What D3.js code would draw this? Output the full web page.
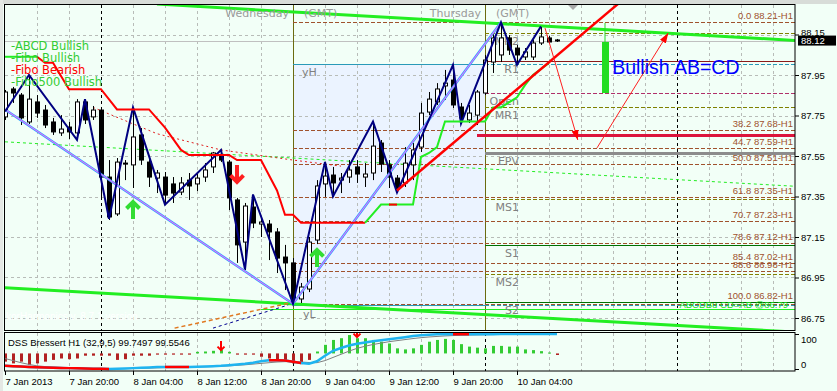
<!DOCTYPE html>
<html>
<head>
<meta charset="utf-8">
<title>USDJPY H1 - Bullish AB=CD</title>
<script src="https://cdn.jsdelivr.net/npm/d3@7"></script>
<style>
  body { margin: 0; background: #f2fff7; }
  svg { display: block; }
  text { font-family: "Liberation Sans", Arial, sans-serif; }
  .mt { font-family: "DejaVu Sans", sans-serif; }
</style>
</head>
<body>
<svg id="chart" width="837" height="391"></svg>
<script>
// ---- data (bar index = hours since 7 Jan 12:00) ----
const startTime = Date.UTC(2013, 0, 7, 12);

const opens = [87.743,87.881,87.851,87.718,87.817,87.777,87.718,87.664,87.693,87.664,
  87.817,87.743,87.777,87.446,87.264,87.515,87.506,87.654,87.520,87.441,
  87.446,87.412,87.372,87.431,87.412,87.446,87.496,87.555,87.520,87.333,
  87.125,87.298,87.214,87.214,87.175,87.051,87.022,86.844,86.893,87.135,
  87.412,87.456,87.431,87.446,87.496,87.446,87.466,87.614,87.506,87.441,
  87.417,87.506,87.594,87.767,87.817,87.896,87.925,87.792,87.728,87.752,
  87.861,88.014,88.049,88.133,88.083,88.039,88.039,88.108,88.133,88.123];
const highs = [87.876,87.891,87.861,87.950,87.851,87.802,87.738,87.752,87.718,87.831,
  87.827,87.797,87.792,87.530,87.540,87.530,87.792,87.688,87.545,87.481,
  87.471,87.446,87.446,87.466,87.466,87.515,87.570,87.580,87.530,87.343,
  87.318,87.357,87.249,87.234,87.194,87.111,87.046,86.923,87.150,87.431,
  87.515,87.496,87.466,87.530,87.530,87.515,87.718,87.629,87.530,87.456,
  87.594,87.614,87.812,87.866,87.910,87.975,88.000,87.812,87.802,87.876,
  88.049,88.157,88.207,88.147,88.098,88.083,88.123,88.187,88.143,88.128];
const lows = [87.728,87.812,87.703,87.708,87.738,87.688,87.654,87.649,87.634,87.629,
  87.708,87.728,87.333,87.234,87.254,87.431,87.392,87.506,87.397,87.367,
  87.313,87.318,87.357,87.333,87.377,87.422,87.466,87.520,87.283,87.022,
  86.987,87.194,87.150,87.036,86.972,86.888,86.824,86.824,86.878,87.115,
  87.348,87.348,87.367,87.417,87.417,87.397,87.431,87.471,87.392,87.372,
  87.397,87.431,87.570,87.752,87.802,87.827,87.787,87.713,87.713,87.703,
  87.851,87.960,88.014,88.049,88.000,88.024,88.024,88.098,88.103,88.113];
const closes = [87.866,87.861,87.738,87.831,87.762,87.703,87.669,87.683,87.669,87.817,
  87.728,87.777,87.446,87.249,87.520,87.510,87.644,87.530,87.446,87.466,
  87.357,87.367,87.417,87.402,87.441,87.481,87.565,87.530,87.343,87.111,
  87.303,87.219,87.224,87.175,87.046,87.022,86.839,86.903,87.125,87.402,
  87.451,87.417,87.441,87.481,87.461,87.461,87.599,87.510,87.446,87.387,
  87.515,87.580,87.762,87.831,87.881,87.910,87.802,87.738,87.762,87.866,
  88.024,88.133,88.133,88.073,88.049,88.064,88.108,88.138,88.113,88.118];

const bidPrice = 88.12;
const priceTicks = [88.15, 87.95, 87.75, 87.55, 87.35, 87.15, 86.95, 86.75];
const timeTickBars = [0, 8, 16, 24, 32, 40, 48, 56, 64];
const timeLabels = ["7 Jan 2013", "7 Jan 20:00", "8 Jan 04:00", "8 Jan 12:00", "8 Jan 20:00",
  "9 Jan 04:00", "9 Jan 12:00", "9 Jan 20:00", "10 Jan 04:00"];

// zigzag and pattern legs: [bar, price]
const zigzag = [[0,87.77],[3,87.95],[9,87.63],[10,87.83],[13,87.24],[16,87.79],[20,87.31],
  [27,87.58],[30,86.99],[31,87.36],[36,86.82],[40,87.52],[41,87.35],[46,87.72],[49,87.37],
  [56,88.00],[57,87.71],[62,88.21],[64,88.00],[67,88.19]];
const abcdLegs = [[0,87.78],[36,86.82],[62,88.21]];

// trailing stop steps
const stopBear = [[4,88.04],[5,88.01],[6,88.01],[8,87.88],[12,87.88],[14,87.78],[18,87.78],
  [20,87.69],[22,87.58],[23,87.555],[28,87.555],[29,87.53],[32,87.53],[34,87.38],[35,87.26],
  [36,87.26],[37,87.22],[45,87.22]];
const stopBullEarly = [[0,88.04],[4,88.04]];
const stopBull = [[45,87.22],[47,87.31],[51,87.31],[52,87.545],[53,87.565],[54,87.594],
  [55,87.72],[60,87.72],[61,87.79],[62,87.79],[64,87.84],[65,87.90],[66,87.95],[67,87.98],[68,88.01]];
const stopBullRedBit = [[48,87.31],[49,87.31]];

const channelTop = [[19,88.30],[99,88.12]];
const channelBottom = [[0,86.90],[99,86.68]];
const channelMid = [[0,87.62],[99,87.40]];
const redDotted = [[11,87.79],[19,87.66],[27,87.58],[36,87.53],[42,87.50]];
const orangeDashed = [[21.2,86.70],[35.6,86.824]];
const navyDashed = [[26,86.70],[35.4,86.814]];
const redTrend = [[49,87.38],[76.6,88.30]];
const projArrowDown = [[67.5,88.182],[71.6,87.629]];
const projArrowUp = [[74,87.59],[82.9,88.157]];

// fibonacci retracement
const fibLevels = [0.0, 38.2, 44.7, 50.0, 61.8, 70.7, 78.6, 85.4, 88.6, 100.0];
const fibPrices = [88.21, 87.68, 87.59, 87.51, 87.35, 87.23, 87.12, 87.02, 86.98, 86.82];

// pivots for Thursday
const pivotNames = ["MR2", "R1", "Open", "MR1", "EPV", "MS1", "S1", "MS2", "S2"];
const pivotPrices = [88.157, 88.019, 87.861, 87.792, 87.565, 87.338, 87.110, 86.967, 86.829];
const yHigh = 88.004, yLow = 86.814;
const targetZone = 87.656;
const cdLine = 86.794;

const greenArrows = [[16,87.323],[39,87.086]];
const redArrows = [[29,87.422]];
const signalBar = [75, 88.207, 88.113, 87.861];

// DSS Bressert sub window
const dss = [9,8,7,6,5,4,3.5,3,2.5,2,1.5,1,0.5,0,0.5,1.5,2.5,3.5,4.5,5.5,
  6,6,5.8,5.6,6.5,7,8,9,11,13,15,18,22,25,25,24,21,17,15,22,
  38,52,60,67,72,76,79,82,85,88,91,94,96.5,98,99,99.5,99.6,99.5,99.4,99.5,
  99.6,99.6,99.65,99.7,99.7,99.72,99.73,99.74,99.745,99.7497];
const dssSignal = [30,24,18,13,9,7,5.5,4.5,3.5,2.5,1.8,1.2,0.8,0.5,0.5,0.8,1.2,1.8,2.5,3.2,
  4,4.6,5,5.2,5.6,6.2,7,8,9,10.5,12,14,16,18,20,21,21,20,18.5,18,
  24,33,42,51,59,65,70,74,78,81,84,87,89.5,91.5,93,94.5,95.5,96.5,97,97.5,
  98,98.4,98.7,99,99.2,99.3,99.4,99.45,99.5,99.5546];
const dssHist = [21,16,21,11,16,21,26,30,28,30,38,38,38,38,26,28,38,38,38,41,
  41,41,41,41,49,50,52,54,49,41,41,41,35,30,28,21,16,14,26,50,
  69,83,88,97,88,88,83,78,73,59,56,59,69,78,83,86,83,71,64,61,
  59,66,66,64,64,56,54,51,47,40];
const histBase = 44.5;
const dssRedRanges = [[0,13],[20,23],[33,37],[56,58]];
const dssArrows = [[27,54],[44,91]];
const indTicks = [100, 0];

const legendNames = ["-ABCD Bullish", "-Fibo Bullish", "-Fibo Bearish", "-Fibo500 Bullish"];
const legendColors = ["#33cc33", "#33cc33", "#ff0000", "#33cc33"];

// ---- scales ----
const hour = 3600 * 1000;
const barTime = i => new Date(startTime + i * hour);
const x = d3.scaleUtc().domain([barTime(0), barTime(99)]).range([5, 797]);
const xb = i => x(barTime(i));
const y = d3.scaleLinear().domain([86.75, 88.15]).range([318, 34.5]);
const yi = d3.scaleLinear().domain([0, 100]).range([369, 334]);

const svg = d3.select("#chart");
svg.append("rect").attr("width", 837).attr("height", 391).attr("fill", "#f2fff7");
svg.append("rect").attr("width", 837).attr("height", 4).attr("fill", "#d8dcd8");
svg.append("rect").attr("width", 3).attr("height", 391).attr("fill", "#e4e8e4");

const defs = svg.append("defs");
defs.append("clipPath").attr("id", "clipMain").append("rect")
  .attr("x", 5).attr("y", 5).attr("width", 790).attr("height", 325);
defs.append("clipPath").attr("id", "clipInd").append("rect")
  .attr("x", 5).attr("y", 333).attr("width", 790).attr("height", 38);
defs.append("marker").attr("id", "redHead").attr("viewBox", "0 0 10 7")
  .attr("refX", 10).attr("refY", 3.5).attr("markerWidth", 10).attr("markerHeight", 7)
  .attr("markerUnits", "userSpaceOnUse").attr("orient", "auto")
  .append("path").attr("d", "M0,0L10,3.5L0,7z").attr("fill", "#ff0000");

const main = svg.append("g").attr("clip-path", "url(#clipMain)");
const ind = svg.append("g").attr("clip-path", "url(#clipInd)");
const line = d3.line().x(d => xb(d[0])).y(d => y(d[1]));

function hline(g, b0, b1, price, color, width, dash) {
  g.append("line")
    .attr("x1", xb(b0)).attr("x2", xb(b1))
    .attr("y1", Math.round(y(price)) + 0.5).attr("y2", Math.round(y(price)) + 0.5)
    .attr("stroke", color).attr("stroke-width", width)
    .attr("stroke-dasharray", dash);
}

// Wednesday range box
main.append("rect")
  .attr("x", xb(36)).attr("y", y(yHigh))
  .attr("width", xb(60) - xb(36)).attr("height", y(yLow) - y(yHigh))
  .attr("fill", "#ebf3ff");

// grid
const gridTimes = x.ticks(d3.utcHour.every(4)).filter(d => d.getUTCHours() !== 0 && +d !== startTime);
[main, ind].forEach((g, k) => {
  g.selectAll(null).data(gridTimes).join("line")
    .attr("x1", d => Math.round(x(d)) + 0.5).attr("x2", d => Math.round(x(d)) + 0.5)
    .attr("y1", k ? 333 : 5).attr("y2", k ? 371 : 330)
    .attr("stroke", "#b8bcb8").attr("stroke-dasharray", "3,3");
});
main.selectAll(null).data(priceTicks).join("line")
  .attr("x1", 5).attr("x2", 795)
  .attr("y1", d => Math.round(y(d)) + 0.5).attr("y2", d => Math.round(y(d)) + 0.5)
  .attr("stroke", "#b8bcb8").attr("stroke-dasharray", "3,3");

// bid line
hline(main, 0, 99, bidPrice, "#c0c0c0", 1, null);

// day separators
const dayBars = [12, 36, 60, 84];
dayBars.forEach(b => {
  const xx = Math.round(xb(b)) + 0.5;
  ind.append("line").attr("x1", xx).attr("x2", xx).attr("y1", 333).attr("y2", 371)
    .attr("stroke", "#000").attr("stroke-dasharray", "3,3");
  if (b === 36 || b === 60) {
    main.append("line").attr("x1", xx).attr("x2", xx).attr("y1", 5).attr("y2", 330)
      .attr("stroke", "#6b6b10");
  } else {
    main.append("line").attr("x1", xx).attr("x2", xx).attr("y1", 5).attr("y2", 330)
      .attr("stroke", "#000").attr("stroke-dasharray", "3,3");
  }
});

// fibonacci lines
fibPrices.forEach(p => hline(main, 36, 99, p, "#a0522d", 1, "4,2"));

// pivot lines
const pivotStyle = {
  MR2: ["#808000", 1, "4,2"], R1: ["#8b1a1a", 1, null], Open: ["#b0306a", 1, "4,2"],
  MR1: ["#808000", 1, "4,2"], EPV: ["#8c8c8c", 3, null], MS1: ["#808000", 1, "4,2"],
  S1: ["#007000", 1, null], MS2: ["#808000", 1, "4,2"], S2: ["#007000", 1, null]
};
pivotNames.forEach((n, i) => {
  const s = pivotStyle[n];
  hline(main, 60, 99, pivotPrices[i], s[0], s[1], s[2]);
});
hline(main, 36, 60, yHigh, "#2a9ab8", 1, null);
hline(main, 60, 99, yHigh, "#2a9ab8", 1, "4,2");
hline(main, 36, 60, yLow, "#2a9ab8", 1, null);
hline(main, 60, 99, yLow, "#2a9ab8", 1, "4,2");
hline(main, 32, 99, cdLine, "#22ee22", 1, null);
hline(main, 59, 99, targetZone, "#dc143c", 3, null);

// pivot labels
main.selectAll(null).data(pivotNames).join("text").attr("class", "mt")
  .attr("x", xb(60) + 34).attr("y", (d, i) => y(pivotPrices[i]) + 12)
  .attr("text-anchor", "end").attr("font-size", 11).attr("fill", "#808080")
  .text(d => d);
main.append("text").attr("class", "mt").attr("x", xb(36) + 9).attr("y", y(yHigh) + 12)
  .attr("font-size", 11).attr("fill", "#808080").text("yH");
main.append("text").attr("class", "mt").attr("x", xb(36) + 10).attr("y", y(yLow) + 13)
  .attr("font-size", 11).attr("fill", "#808080").text("yL");

// channel
main.append("path").attr("d", line(channelTop)).attr("fill", "none")
  .attr("stroke", "#22ee22").attr("stroke-width", 3);
main.append("path").attr("d", line(channelBottom)).attr("fill", "none")
  .attr("stroke", "#22ee22").attr("stroke-width", 3);
main.append("path").attr("d", line(channelMid)).attr("fill", "none")
  .attr("stroke", "#22ee22").attr("stroke-dasharray", "3,3");
main.append("path").attr("d", line(redDotted)).attr("fill", "none")
  .attr("stroke", "#e02020").attr("stroke-dasharray", "2,3");
main.append("path").attr("d", line(orangeDashed)).attr("fill", "none")
  .attr("stroke", "#e07820").attr("stroke-width", 1.5).attr("stroke-dasharray", "4,3");
main.append("path").attr("d", line(navyDashed)).attr("fill", "none")
  .attr("stroke", "#000090").attr("stroke-dasharray", "3,3");

// candles
const bars = d3.range(opens.length);
const cg = main.append("g");
cg.selectAll("line").data(bars).join("line")
  .attr("x1", i => xb(i) + 0.5).attr("x2", i => xb(i) + 0.5)
  .attr("y1", i => y(highs[i])).attr("y2", i => y(lows[i]))
  .attr("stroke", "#000");
cg.selectAll("rect").data(bars).join("rect")
  .attr("x", i => xb(i) - 1.5).attr("width", 4)
  .attr("y", i => y(Math.max(opens[i], closes[i])))
  .attr("height", i => Math.max(1, Math.abs(y(opens[i]) - y(closes[i]))))
  .attr("fill", i => closes[i] >= opens[i] ? "#fff" : "#000")
  .attr("stroke", "#000");

// ABCD legs + zigzag
main.append("path").attr("d", line(abcdLegs)).attr("fill", "none")
  .attr("stroke", "#3aa8ff").attr("stroke-width", 2.5);
main.append("path").attr("d", line(abcdLegs)).attr("fill", "none")
  .attr("stroke", "#ff60ff").attr("stroke-width", 1);
main.append("path").attr("d", line(zigzag)).attr("fill", "none")
  .attr("stroke", "#000080").attr("stroke-width", 2);

// trailing stops + trend line
main.append("path").attr("d", line(stopBullEarly)).attr("fill", "none")
  .attr("stroke", "#22ee22").attr("stroke-width", 2);
main.append("path").attr("d", line(stopBear)).attr("fill", "none")
  .attr("stroke", "#ff0000").attr("stroke-width", 2);
main.append("path").attr("d", line(stopBull)).attr("fill", "none")
  .attr("stroke", "#22ee22").attr("stroke-width", 2);
main.append("path").attr("d", line(stopBullRedBit)).attr("fill", "none")
  .attr("stroke", "#ff0000").attr("stroke-width", 2);
main.append("path").attr("d", line(redTrend)).attr("fill", "none")
  .attr("stroke", "#ff0000").attr("stroke-width", 2.5);

// projection arrows
[projArrowDown, projArrowUp].forEach(a => {
  main.append("path").attr("d", line(a)).attr("fill", "none")
    .attr("stroke", "#ff2020").attr("marker-end", "url(#redHead)");
});

// signal arrows
function arrowPath(cx, tipY, dir, len, head) {
  return `M${cx},${tipY - dir * len}L${cx},${tipY}M${cx - head},${tipY - dir * head}L${cx},${tipY}L${cx + head},${tipY - dir * head}`;
}
greenArrows.forEach(a => {
  main.append("path").attr("d", arrowPath(xb(a[0]), y(a[1]), -1, 17, 6.5))
    .attr("fill", "none").attr("stroke", "#33dd33").attr("stroke-width", 4);
});
redArrows.forEach(a => {
  main.append("path").attr("d", arrowPath(xb(a[0]), y(a[1]), 1, 17, 6.5))
    .attr("fill", "none").attr("stroke", "#ff2020").attr("stroke-width", 4);
});

// pattern completion bar and text
main.append("line").attr("x1", xb(signalBar[0])).attr("x2", xb(signalBar[0]))
  .attr("y1", y(signalBar[1])).attr("y2", y(signalBar[2]))
  .attr("stroke", "#22dd22").attr("stroke-width", 1);
main.append("rect").attr("x", xb(signalBar[0]) - 3).attr("width", 7)
  .attr("y", y(signalBar[2])).attr("height", y(signalBar[3]) - y(signalBar[2]))
  .attr("fill", "#22dd22");
main.append("text").attr("x", xb(75.9)).attr("y", y(87.955))
  .attr("font-size", 19.5).attr("fill", "#0000ff").text("Bullish AB=CD");

// fib labels
main.selectAll(null).data(fibLevels).join("text")
  .attr("x", 793).attr("y", (d, i) => y(fibPrices[i]) - (i === 9 ? 5 : 3))
  .attr("text-anchor", "end").attr("font-size", 9.5).attr("fill", "#a0522d")
  .text((d, i) => `${d.toFixed(1)} ${fibPrices[i].toFixed(2)}-H1`);
main.append("text").attr("x", xb(84.3)).attr("y", y(cdLine) - 1)
  .attr("font-size", 9.5).attr("fill", "#22dd22").text("ABCDBu CD=AB  @86.79");
main.append("text").attr("x", 6).attr("y", 320)
  .attr("font-size", 10).attr("fill", "#ffffff").text("korHarmonics v. 8.7 1 version");

// day names
[[36, "Wednesday"], [60, "Thursday"]].forEach(d => {
  main.append("text").attr("class", "mt").attr("x", xb(d[0]) - 4).attr("y", 17)
    .attr("text-anchor", "end").attr("font-size", 11).attr("fill", "#9a9a9a").text(d[1]);
  main.append("text").attr("class", "mt").attr("x", xb(d[0]) + 11).attr("y", 17)
    .attr("font-size", 11).attr("fill", "#9a9a9a").text("(GMT)");
});
// chart shift marker
svg.append("path").attr("d", "M568,5L578,5L573,10Z").attr("fill", "#a8a8a8");

// legend
svg.selectAll(".leg").data(legendNames).join("text").attr("class", "mt leg")
  .attr("x", 11).attr("y", (d, i) => 50 + i * 12)
  .attr("font-size", 11.5).attr("fill", (d, i) => legendColors[i]).text(d => d);

// ---- DSS sub window ----
ind.selectAll("rect").data(bars).join("rect")
  .attr("x", i => xb(i) - 1).attr("width", 3)
  .attr("y", i => Math.min(yi(dssHist[i]), yi(histBase)))
  .attr("height", i => Math.max(1, Math.abs(yi(dssHist[i]) - yi(histBase))))
  .attr("fill", i => dssHist[i] > histBase ? "#33cc33" : "#b22222");
const iline = d3.line().x((d, i) => xb(i)).y(d => yi(d));
ind.append("path").attr("d", iline(dssSignal)).attr("fill", "none").attr("stroke", "#808080");
ind.append("path").attr("d", iline(dss)).attr("fill", "none")
  .attr("stroke", "#1eb4f0").attr("stroke-width", 2.5);
dssRedRanges.forEach(r => {
  const seg = d3.range(r[0], r[1] + 1).map(i => [i, dss[i]]);
  ind.append("path").attr("d", d3.line().x(d => xb(d[0])).y(d => yi(d[1]))(seg))
    .attr("fill", "none").attr("stroke", "#ff0000").attr("stroke-width", 2.5);
});
dssArrows.forEach(a => {
  ind.append("path").attr("d", arrowPath(xb(a[0]), yi(a[1]), 1, 9, 3.5))
    .attr("fill", "none").attr("stroke", "#ff0000").attr("stroke-width", 2);
});
svg.append("text").attr("x", 8).attr("y", 346).attr("font-size", 9.5).attr("fill", "#000")
  .text(`DSS Bressert H1 (32,9,5) ${dss[dss.length - 1].toFixed(4)} ${dssSignal[dssSignal.length - 1].toFixed(4)}`);

// frames
svg.append("rect").attr("x", 4.5).attr("y", 4.5).attr("width", 790.5).attr("height", 326)
  .attr("fill", "none").attr("stroke", "#000");
svg.append("rect").attr("x", 4.5).attr("y", 332.5).attr("width", 790.5).attr("height", 38.5)
  .attr("fill", "none").attr("stroke", "#000");

// price axis
const pAxis = svg.append("g").attr("transform", "translate(795,0)")
  .call(d3.axisRight(y).tickValues(priceTicks).tickSize(4).tickPadding(2).tickFormat(d3.format(".2f")));
pAxis.select(".domain").remove();
pAxis.selectAll("text").attr("font-size", 9.5).attr("font-family", "Liberation Sans, Arial").attr("fill", "#000");
// the top label sits under the bid box, as in the terminal
pAxis.selectAll(".tick").filter(d => Math.abs(d - bidPrice) < 0.05).select("text").attr("dy", "0.1em");
// bid label
svg.append("rect").attr("x", 798).attr("y", y(bidPrice) - 5).attr("width", 38).attr("height", 10).attr("fill", "#000");
svg.append("text").attr("x", 801).attr("y", y(bidPrice) + 3.5).attr("font-size", 9.5)
  .attr("fill", "#fff").text(bidPrice.toFixed(2));

// indicator axis
indTicks.forEach(v => {
  svg.append("line").attr("x1", 795).attr("x2", 799).attr("y1", yi(v) + 0.5).attr("y2", yi(v) + 0.5).attr("stroke", "#000");
  svg.append("text").attr("x", 801).attr("y", Math.min(Math.max(yi(v), 339.5), 364) + 3.5)
    .attr("font-size", 9.5).text(v);
});

// time axis
const tAxis = svg.append("g").attr("transform", "translate(0,371)")
  .call(d3.axisBottom(x).tickValues(timeTickBars.map(barTime)).tickSize(4).tickPadding(3)
    .tickFormat((d, i) => timeLabels[i]));
tAxis.select(".domain").remove();
tAxis.selectAll("text").attr("text-anchor", "start").attr("x", 0)
  .attr("font-size", 9.5).attr("font-family", "Liberation Sans, Arial").attr("fill", "#000");
</script>
</body>
</html>
